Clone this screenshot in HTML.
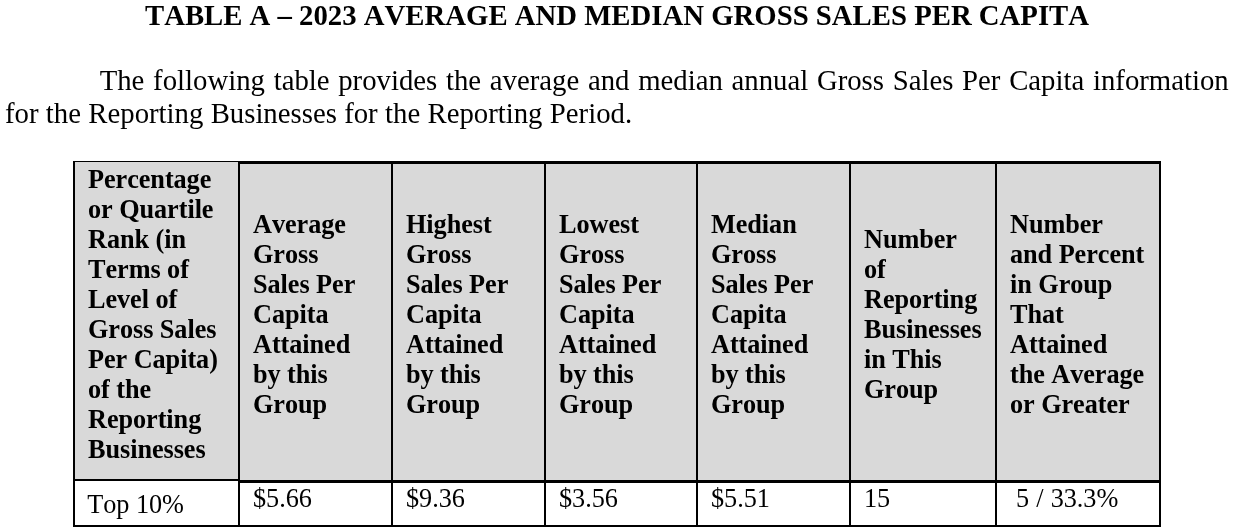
<!DOCTYPE html>
<html lang="en">
<head>
<meta charset="utf-8">
<title>Table A – 2023 Average and Median Gross Sales Per Capita</title>
<style>
html,body{margin:0;padding:0;background:#fff;}
body{width:1234px;height:531px;position:relative;overflow:hidden;font-family:"Liberation Serif","Times New Roman",serif;color:#000;font-kerning:none;}
.abs{position:absolute;white-space:nowrap;}
#title{left:0;width:1234px;top:-1px;text-align:center;font-weight:bold;font-size:28.75px;line-height:33px;}
.p{font-size:28.75px;line-height:33px;}
#p1{left:99.7px;top:64px;width:1129px;text-align:justify;text-align-last:justify;white-space:normal;}
#p2{left:5px;top:97px;word-spacing:0.15px;}
.fill{position:absolute;background:#d9d9d9;}
.ln{position:absolute;background:#000;}
.h{position:absolute;white-space:nowrap;font-weight:bold;font-size:26.25px;line-height:30.04px;letter-spacing:-0.06px;}
.d{position:absolute;white-space:nowrap;font-size:26.25px;line-height:30.04px;letter-spacing:-0.06px;}
</style>
</head>
<body>
<div id="title" class="abs">TABLE A – 2023 AVERAGE AND MEDIAN GROSS SALES PER CAPITA</div>
<div id="p1" class="abs p">The following table provides the average and median annual Gross Sales Per Capita information</div>
<div id="p2" class="abs p">for the Reporting Businesses for the Reporting Period.</div>

<!-- header fill -->
<div class="fill" style="left:74px;top:162px;width:1086px;height:319px;"></div>

<!-- horizontal borders -->
<div class="ln" style="left:73px;top:161px;width:167px;height:1px;"></div>
<div class="ln" style="left:238px;top:161px;width:923px;height:3px;"></div>
<div class="ln" style="left:73px;top:479px;width:167px;height:2px;"></div>
<div class="ln" style="left:238px;top:480px;width:923px;height:3px;"></div>
<div class="ln" style="left:73px;top:525px;width:1088px;height:2px;"></div>
<!-- vertical borders -->
<div class="ln" style="left:73px;top:161px;width:2px;height:366px;"></div>
<div class="ln" style="left:238px;top:161px;width:2px;height:366px;"></div>
<div class="ln" style="left:391px;top:161px;width:2px;height:366px;"></div>
<div class="ln" style="left:544px;top:161px;width:2px;height:366px;"></div>
<div class="ln" style="left:696px;top:161px;width:2px;height:366px;"></div>
<div class="ln" style="left:849px;top:161px;width:2px;height:366px;"></div>
<div class="ln" style="left:995px;top:161px;width:2px;height:366px;"></div>
<div class="ln" style="left:1159px;top:161px;width:2px;height:366px;"></div>

<!-- header text -->
<div class="h" style="left:88px;top:165px;">Percentage<br>or Quartile<br>Rank (in<br>Terms of<br>Level of<br>Gross Sales<br>Per Capita)<br>of the<br>Reporting<br>Businesses</div>
<div class="h" style="left:253px;top:210px;">Average<br>Gross<br>Sales Per<br>Capita<br>Attained<br>by this<br>Group</div>
<div class="h" style="left:406px;top:210px;">Highest<br>Gross<br>Sales Per<br>Capita<br>Attained<br>by this<br>Group</div>
<div class="h" style="left:559px;top:210px;">Lowest<br>Gross<br>Sales Per<br>Capita<br>Attained<br>by this<br>Group</div>
<div class="h" style="left:711px;top:210px;">Median<br>Gross<br>Sales Per<br>Capita<br>Attained<br>by this<br>Group</div>
<div class="h" style="left:864px;top:225px;">Number<br>of<br>Reporting<br>Businesses<br>in This<br>Group</div>
<div class="h" style="left:1010px;top:210px;">Number<br>and Percent<br>in Group<br>That<br>Attained<br>the Average<br>or Greater</div>

<!-- data row -->
<div class="d" style="left:87.3px;top:490px;">Top 10%</div>
<div class="d" style="left:253px;top:484px;">$5.66</div>
<div class="d" style="left:406px;top:484px;">$9.36</div>
<div class="d" style="left:559px;top:484px;">$3.56</div>
<div class="d" style="left:711px;top:484px;">$5.51</div>
<div class="d" style="left:864px;top:484px;">15</div>
<div class="d" style="left:1016px;top:484px;word-spacing:0.7px;">5 / 33.3%</div>
</body>
</html>
